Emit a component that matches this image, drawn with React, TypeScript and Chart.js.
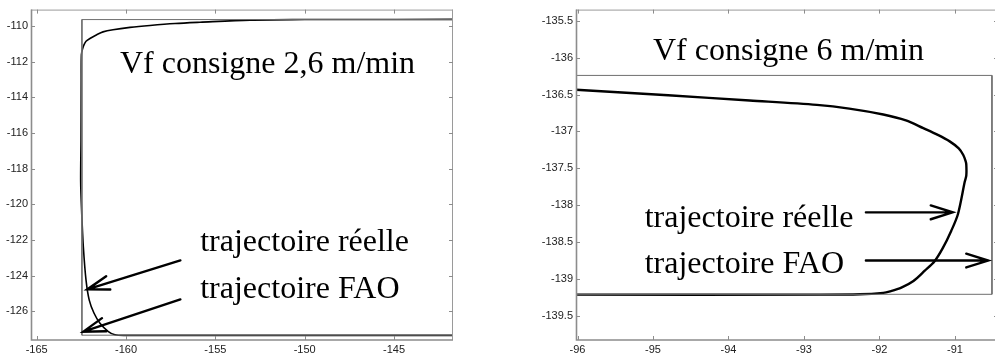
import React, { useEffect, useRef } from "react";
import { Chart, registerables } from "chart.js";

Chart.register(...registerables);

// ---------- Left chart (Vf consigne 2,6 m/min) ----------
const L_X_TICKS = [-165, -160, -155, -150, -145];
const L_Y_TICKS = [-110, -112, -114, -116, -118, -120, -122, -124, -126];
const L_X_RANGE = [-165.32, -141.7];
const L_Y_RANGE = [-127.62, -109.07];

// trajectoire FAO (programmed path)
const L_FAO_X = [-141.7, -162.47, -162.47, -141.7];
const L_FAO_Y = [-109.63, -109.63, -127.35, -127.35];

// trajectoire réelle (measured path)
const L_REAL_X = [
  -141.7, -148, -150, -153.06, -155.86, -157.26, -158.66, -159.78, -160.73, -161.29, -161.64,
  -162.02, -162.24, -162.35, -162.44, -162.5, -162.51, -162.52, -162.54, -162.48, -162.39, -162.24,
  -162.06, -161.79, -161.46, -160.99, -160.62, -160.0, -158.0, -141.7,
];
const L_REAL_Y = [
  -109.62, -109.625, -109.63, -109.66, -109.78, -109.85, -109.96, -110.07, -110.2, -110.32, -110.48,
  -110.69, -110.85, -111.04, -111.3, -111.6, -113.0, -116.4, -118.7, -120.54, -122.4, -124.26,
  -125.38, -126.12, -126.68, -127.15, -127.33, -127.36, -127.36, -127.36,
];

const L_TEXTS = [
  { text: "Vf consigne 2,6 m/min", x: -160.34, y: -112.64 },
  { text: "trajectoire réelle", x: -155.85, y: -122.64 },
  { text: "trajectoire FAO", x: -155.85, y: -125.29 },
];
const L_ARROWS = [
  { x0: -156.96, y0: -123.15, x1: -162.17, y1: -124.78 },
  { x0: -156.96, y0: -125.34, x1: -162.39, y1: -127.15 },
];

// ---------- Right chart (Vf consigne 6 m/min) ----------
const R_X_TICKS = [-96, -95, -94, -93, -92, -91];
const R_Y_TICKS = [-135.5, -136, -136.5, -137, -137.5, -138, -138.5, -139, -139.5];
const R_X_RANGE = [-96.02, -90.43];
const R_Y_RANGE = [-139.83, -135.347];

const R_FAO_X = [-96.02, -90.51, -90.51, -96.02];
const R_FAO_Y = [-136.24, -136.24, -139.21, -139.21];

const R_REAL_X = [
  -96.02, -94.8, -93.72, -92.83, -92.4, -91.95, -91.65, -91.42, -91.22, -91.07, -90.95,
  -90.89, -90.86, -90.85, -90.85, -90.87, -90.96, -91.05, -91.16, -91.27, -91.4,
  -91.55, -91.71, -91.86, -91.95, -92.26, -92.8, -96.02,
];
const R_REAL_Y = [
  -136.435, -136.51, -136.58, -136.64, -136.69, -136.77, -136.85, -136.955, -137.05, -137.135, -137.23,
  -137.32, -137.4, -137.45, -137.6, -137.68, -138.12, -138.35, -138.58, -138.76, -138.89,
  -139.03, -139.12, -139.17, -139.19, -139.21, -139.215, -139.215,
];

const R_TEXTS = [
  { text: "Vf consigne 6 m/min", x: -95.0, y: -136.03 },
  { text: "trajectoire réelle", x: -95.11, y: -138.29 },
  { text: "trajectoire FAO", x: -95.11, y: -138.92 },
];
const R_ARROWS = [
  { x0: -92.18, y0: -138.098, x1: -91.03, y1: -138.098 },
  { x0: -92.18, y0: -138.752, x1: -90.56, y1: -138.752 },
];

type Txt = { text: string; x: number; y: number };
type Arr = { x0: number; y0: number; x1: number; y1: number };

function zip(xs: number[], ys: number[]) {
  return xs.map((x, i) => ({ x, y: ys[i] }));
}

function makeOverlay(texts: Txt[], arrows: Arr[], xTicks: number[], yTicks: number[]) {
  return {
    id: "overlay",
    afterDatasetsDraw(chart: any) {
      const ctx = chart.ctx;
      const { left, right, top, bottom } = chart.chartArea;
      const xs = chart.scales.x;
      const ys = chart.scales.y;
      ctx.save();
      // frame
      ctx.strokeStyle = "#9a9a9a";
      ctx.lineWidth = 1;
      ctx.beginPath();
      ctx.moveTo(left, top + 0.5);
      ctx.lineTo(right, top + 0.5);
      ctx.moveTo(right - 0.5, top);
      ctx.lineTo(right - 0.5, bottom);
      ctx.stroke();
      ctx.lineWidth = 1.6;
      ctx.strokeStyle = "#8c8c8c";
      ctx.beginPath();
      ctx.moveTo(left + 0.5, top);
      ctx.lineTo(left + 0.5, bottom);
      ctx.lineTo(right, bottom);
      ctx.stroke();
      // inner ticks
      ctx.lineWidth = 1;
      ctx.strokeStyle = "#8c8c8c";
      ctx.beginPath();
      for (const v of xTicks) {
        const px = Math.round(xs.getPixelForValue(v)) + 0.5;
        ctx.moveTo(px, bottom);
        ctx.lineTo(px, bottom - 4);
        ctx.moveTo(px, top);
        ctx.lineTo(px, top + 4);
      }
      for (const v of yTicks) {
        const py = Math.round(ys.getPixelForValue(v)) + 0.5;
        ctx.moveTo(left, py);
        ctx.lineTo(left + 4, py);
        ctx.moveTo(right, py);
        ctx.lineTo(right - 4, py);
      }
      ctx.stroke();
      // texts
      ctx.fillStyle = "#000";
      ctx.font = '32px "Liberation Serif", "Times New Roman", serif';
      ctx.textAlign = "left";
      ctx.textBaseline = "alphabetic";
      for (const t of texts) {
        ctx.fillText(t.text, xs.getPixelForValue(t.x), ys.getPixelForValue(t.y));
      }
      // arrows
      ctx.strokeStyle = "#000";
      ctx.lineWidth = 2.4;
      ctx.lineCap = "round";
      for (const a of arrows) {
        const x0 = xs.getPixelForValue(a.x0);
        const y0 = ys.getPixelForValue(a.y0);
        const x1 = xs.getPixelForValue(a.x1);
        const y1 = ys.getPixelForValue(a.y1);
        const ang = Math.atan2(y0 - y1, x0 - x1);
        const len = 23;
        const spread = (17.5 * Math.PI) / 180;
        ctx.beginPath();
        ctx.moveTo(x0, y0);
        ctx.lineTo(x1, y1);
        ctx.moveTo(x1 + len * Math.cos(ang - spread), y1 + len * Math.sin(ang - spread));
        ctx.lineTo(x1, y1);
        ctx.lineTo(x1 + len * Math.cos(ang + spread), y1 + len * Math.sin(ang + spread));
        ctx.stroke();
      }
      ctx.restore();
    },
  };
}

type Cfg = {
  xRange: number[];
  yRange: number[];
  xTicks: number[];
  yTicks: number[];
  fao: { x: number; y: number }[];
  real: { x: number; y: number }[];
  texts: Txt[];
  arrows: Arr[];
  yAxisWidth: number;
  padRight: number;
  realWidth: number;
};

function Plot({ cfg, width, style }: { cfg: Cfg; width: number; style: React.CSSProperties }) {
  const ref = useRef<HTMLCanvasElement | null>(null);
  useEffect(() => {
    if (!ref.current) return;
    const tickFont = { family: '"Liberation Sans", Arial, sans-serif', size: 11 };
    const chart = new Chart(ref.current, {
      type: "scatter",
      data: {
        datasets: [
          {
            label: "trajectoire FAO",
            data: cfg.fao,
            showLine: true,
            borderColor: "#6e6e6e",
            borderWidth: 1,
            pointRadius: 0,
            tension: 0,
          },
          {
            label: "trajectoire réelle",
            data: cfg.real,
            showLine: true,
            borderColor: "#000",
            borderWidth: cfg.realWidth,
            pointRadius: 0,
            tension: 0.3,
          },
        ],
      },
      options: {
        animation: false,
        responsive: false,
        maintainAspectRatio: false,
        layout: { padding: { top: 8, right: cfg.padRight, left: 0, bottom: 0 } },
        plugins: { legend: { display: false }, tooltip: { enabled: false } },
        scales: {
          x: {
            type: "linear",
            min: cfg.xRange[0],
            max: cfg.xRange[1],
            grid: { display: false, drawTicks: false },
            border: { display: false },
            afterBuildTicks: (s: any) => {
              s.ticks = cfg.xTicks.map((v) => ({ value: v }));
            },
            afterFit: (s: any) => {
              s.height = 18;
            },
            ticks: {
              padding: 3,
              color: "#222",
              font: tickFont,
              maxRotation: 0,
              autoSkip: false,
              callback: (v: any) => String(v),
            },
          },
          y: {
            type: "linear",
            min: cfg.yRange[0],
            max: cfg.yRange[1],
            grid: { display: false, drawTicks: false },
            border: { display: false },
            afterBuildTicks: (s: any) => {
              s.ticks = cfg.yTicks.map((v) => ({ value: v }));
            },
            afterFit: (s: any) => {
              s.width = cfg.yAxisWidth;
            },
            ticks: {
              padding: 3,
              color: "#222",
              font: tickFont,
              autoSkip: false,
              callback: (v: any) => String(v),
            },
          },
        },
      },
      plugins: [makeOverlay(cfg.texts, cfg.arrows, cfg.xTicks, cfg.yTicks)],
    } as any);
    return () => chart.destroy();
  }, [cfg]);
  return <canvas ref={ref} width={width} height={358} style={{ position: "absolute", top: 0, ...style }} />;
}

const LEFT: Cfg = {
  xRange: L_X_RANGE,
  yRange: L_Y_RANGE,
  xTicks: L_X_TICKS,
  yTicks: L_Y_TICKS,
  fao: zip(L_FAO_X, L_FAO_Y),
  real: zip(L_REAL_X, L_REAL_Y),
  texts: L_TEXTS,
  arrows: L_ARROWS,
  yAxisWidth: 31,
  padRight: 480 - 453,
  realWidth: 1.6,
};

const RIGHT: Cfg = {
  xRange: R_X_RANGE,
  yRange: R_Y_RANGE,
  xTicks: R_X_TICKS,
  yTicks: R_Y_TICKS,
  fao: zip(R_FAO_X, R_FAO_Y),
  real: zip(R_REAL_X, R_REAL_Y),
  texts: R_TEXTS,
  arrows: R_ARROWS,
  yAxisWidth: 76,
  padRight: 2,
  realWidth: 2.4,
};

export default function App() {
  return (
    <div
      style={{
        position: "absolute",
        top: 0,
        left: 0,
        width: 995,
        height: 358,
        overflow: "hidden",
        background: "#fff",
      }}
    >
      <Plot cfg={LEFT} width={480} style={{ left: 0 }} />
      <Plot cfg={RIGHT} width={500} style={{ left: 500 }} />
    </div>
  );
}
